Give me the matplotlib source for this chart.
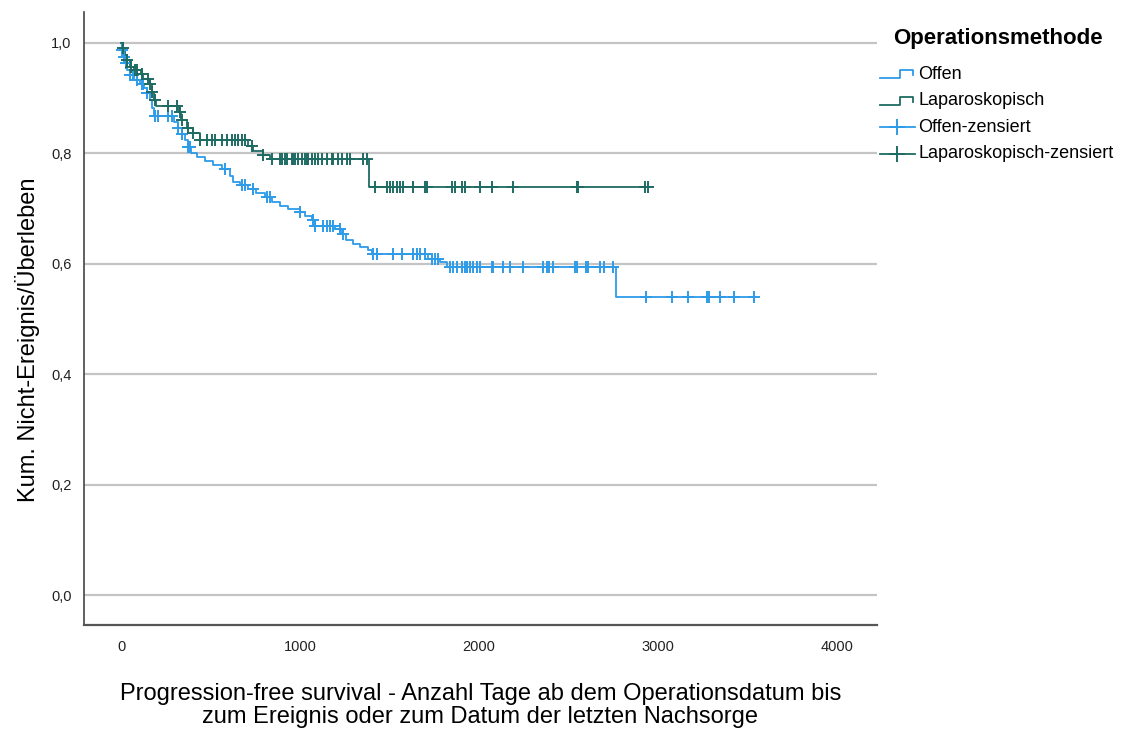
import matplotlib
matplotlib.use("Agg")
import matplotlib.pyplot as plt
import numpy as np

plt.rcParams['font.family'] = ['Liberation Sans', 'DejaVu Sans']

# Kaplan-Meier step coordinates (days, cumulative survival after each event)
offen_t = [0, 6, 11, 22, 34, 50, 73, 106, 128, 145, 162, 173, 184, 296, 318, 341,
           358, 374, 391, 425, 469, 514, 564, 609, 626, 665, 709, 754, 804, 844,
           888, 933, 1000, 1028, 1067, 1084, 1196, 1235, 1257, 1296, 1335, 1380,
           1402, 1715, 1782, 1821, 2765]
offen_s = [1.0, 0.987, 0.975, 0.964, 0.951, 0.942, 0.933, 0.926, 0.918, 0.909,
           0.897, 0.882, 0.868, 0.857, 0.846, 0.835, 0.824, 0.812, 0.801, 0.793,
           0.786, 0.779, 0.772, 0.759, 0.748, 0.743, 0.736, 0.728, 0.721, 0.712,
           0.705, 0.699, 0.694, 0.687, 0.679, 0.668, 0.663, 0.654, 0.643, 0.636,
           0.630, 0.625, 0.618, 0.609, 0.603, 0.594, 0.540]
offen_censored = [6, 17, 28, 50, 67, 89, 117, 123, 145, 190, 207, 263, 285, 318,
                  341, 374, 385, 581, 676, 693, 737, 816, 832, 1000, 1073, 1084,
                  1128, 1151, 1168, 1184, 1223, 1240, 1408, 1430, 1520, 1570, 1631,
                  1654, 1670, 1698, 1737, 1754, 1771, 1838, 1855, 1877, 1905, 1922,
                  1933, 1950, 1966, 1989, 2006, 2073, 2078, 2134, 2173, 2246, 2358,
                  2380, 2391, 2413, 2536, 2547, 2598, 2609, 2676, 2698, 2749, 2933,
                  3078, 3168, 3274, 3285, 3346, 3425, 3536]

lap_t = [0, 11, 22, 34, 50, 73, 112, 123, 162, 173, 184, 196, 324, 335, 369, 402,
         441, 709, 737, 793, 832, 1385]
lap_s = [1.0, 0.991, 0.978, 0.969, 0.957, 0.951, 0.944, 0.935, 0.926, 0.911,
         0.897, 0.886, 0.875, 0.861, 0.846, 0.837, 0.824, 0.813, 0.804, 0.797,
         0.790, 0.739]
lap_censored = [11, 34, 56, 78, 89, 117, 151, 162, 173, 190, 263, 313, 330, 341,
                374, 402, 441, 480, 508, 525, 564, 592, 620, 637, 654, 676, 693,
                732, 793, 844, 888, 899, 916, 927, 955, 961, 972, 989, 1011, 1028,
                1039, 1045, 1067, 1084, 1101, 1123, 1151, 1179, 1184, 1212, 1235,
                1263, 1279, 1352, 1374, 1419, 1486, 1503, 1520, 1542, 1559, 1575,
                1631, 1698, 1709, 1849, 1866, 1905, 1922, 2006, 2073, 2190, 2547,
                2553, 2927, 2944]

groups = ["Offen", "Laparoskopisch"]
legend_title = "Operationsmethode"
y_ticks = [0.0, 0.2, 0.4, 0.6, 0.8, 1.0]
x_ticks = [0, 1000, 2000, 3000, 4000]

c_offen = "#2e9be8"
c_lap = "#1e6b63"

fig = plt.figure(figsize=(11.21, 7.29), dpi=100)
ax = fig.add_axes([0.0749, 0.1427, 0.7074, 0.8408])


def step_value(ts, ss, t):
    idx = np.searchsorted(ts, t, side="right") - 1
    return ss[idx]


def draw_group(ts, ss, cens, color):
    end = max(max(cens), ts[-1])
    xs = list(ts) + [end]
    ys = list(ss) + [ss[-1]]
    ax.step(xs, ys, where="post", color=color, lw=1.3, zorder=3)
    cy = [step_value(ts, ss, c) for c in cens]
    ax.plot(cens, cy, ls="none", marker="+", ms=8.5, mew=1.4, color=color,
            zorder=4)


draw_group(offen_t, offen_s, offen_censored, c_offen)
draw_group(lap_t, lap_s, lap_censored, c_lap)

ax.set_xlim(-207, 4223)
ax.set_ylim(-0.054, 1.056)
for yv in y_ticks:
    ax.axhline(yv, color="#c4c4c4", lw=1.6, zorder=1)
ax.set_yticks(y_ticks)
ax.set_yticklabels([f"{v:.1f}".replace(".", ",") for v in y_ticks])
ax.set_xticks(x_ticks)
ax.set_xticklabels([str(v) for v in x_ticks])
ax.tick_params(axis="both", length=0, labelsize=10.5, colors="#222222")
ax.tick_params(axis="y", pad=9)
ax.tick_params(axis="x", pad=11)
for s in ["top", "right"]:
    ax.spines[s].set_visible(False)
ax.spines["left"].set_color("#444444")
ax.spines["bottom"].set_color("#555555")
ax.spines["left"].set_linewidth(1.2)
ax.spines["bottom"].set_linewidth(1.6)

ax.set_ylabel("Kum. Nicht-Ereignis/Überleben", fontsize=17)
ax.yaxis.set_label_coords(-0.055, 0.465)
ax.set_xlabel("Progression-free survival - Anzahl Tage ab dem Operationsdatum bis\n"
              "zum Ereignis oder zum Datum der letzten Nachsorge",
              fontsize=17, linespacing=1.05)
ax.xaxis.set_label_coords(0.5, -0.132)
ax.xaxis.label.set_verticalalignment("center")

# Legend drawn in pixel coordinates on an overlay axes
lg = fig.add_axes([0, 0, 1, 1], facecolor="none")
lg.set_xlim(0, 1121)
lg.set_ylim(729, 0)
lg.axis("off")
lg.text(893, 38, legend_title, fontsize=16, fontweight="bold", va="center",
        ha="left")
labels = [groups[0], groups[1], groups[0] + "-zensiert", groups[1] + "-zensiert"]
colors = [c_offen, c_lap, c_offen, c_lap]
for i, (lab, col) in enumerate(zip(labels, colors)):
    yc = 74 + i * 26.5
    if i < 2:
        lg.plot([880, 900, 900, 913, 913], [yc + 4, yc + 4, yc - 4, yc - 4, yc + 1],
                color=col, lw=1.3)
    else:
        lg.plot([880, 915], [yc, yc], color=col, lw=1.3)
        lg.plot([897], [yc], marker="+", ms=12, mew=1.4, color=col)
    lg.text(918, yc, lab, fontsize=13, va="center", ha="left")

fig.savefig("out.png", dpi=100)
